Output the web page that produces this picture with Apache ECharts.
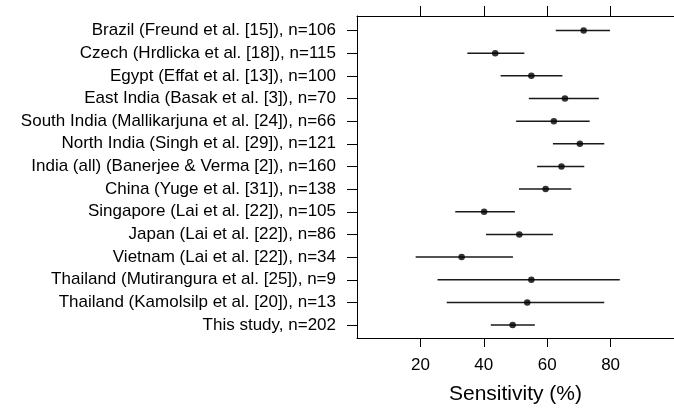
<!DOCTYPE html>
<html>
<head>
<meta charset="utf-8">
<script src="https://cdn.jsdelivr.net/npm/echarts@6/dist/echarts.min.js"></script>
<style>
html,body{margin:0;padding:0;background:#fff;}
#chart{width:674px;height:412px;}
</style>
</head>
<body>
<div id="chart"></div>
<script>
const categories = [
  "Brazil (Freund et al. [15]), n=106",
  "Czech (Hrdlicka et al. [18]), n=115",
  "Egypt (Effat et al. [13]), n=100",
  "East India (Basak et al. [3]), n=70",
  "South India (Mallikarjuna et al. [24]), n=66",
  "North India (Singh et al. [29]), n=121",
  "India (all) (Banerjee & Verma [2]), n=160",
  "China (Yuge et al. [31]), n=138",
  "Singapore (Lai et al. [22]), n=105",
  "Japan (Lai et al. [22]), n=86",
  "Vietnam (Lai et al. [22]), n=34",
  "Thailand (Mutirangura et al. [25]), n=9",
  "Thailand (Kamolsilp et al. [20]), n=13",
  "This study, n=202"
];
const estimates = [71.5, 43.6, 55.0, 65.6, 62.1, 70.3, 64.5, 59.5, 40.1, 51.2, 33.0, 55.0, 53.7, 49.1];
const lower     = [62.7, 34.8, 45.3, 54.2, 50.2, 61.8, 56.8, 51.1, 31.0, 40.7, 18.5, 25.4, 28.3, 42.2];
const upper     = [79.8, 52.8, 64.8, 76.3, 73.4, 78.0, 71.7, 67.6, 49.8, 61.8, 49.2, 82.9, 78.0, 56.1];
const xTicks = [20, 40, 60, 80];
const rowPositions = categories.map((c, i) => i + 1);

const font = "Liberation Sans, Arial, Helvetica, sans-serif";
const chart = echarts.init(document.getElementById('chart'));
chart.setOption({
  animation: false,
  backgroundColor: '#fff',
  grid: { left: 357, top: 16, width: 321.5, height: 322 },
  xAxis: [
    {
      type: 'value', position: 'bottom', min: 0, max: 100,
      name: 'Sensitivity (%)', nameLocation: 'middle', nameGap: 46,
      nameTextStyle: { fontFamily: font, fontSize: 21, color: '#000' },
      axisLine: { show: true, lineStyle: { color: '#000', width: 1 } },
      axisTick: { show: true, length: 9, customValues: xTicks, lineStyle: { color: '#000' } },
      axisLabel: { show: true, customValues: xTicks, margin: 19, fontFamily: font, fontSize: 17, color: '#000' },
      splitLine: { show: false }
    },
    {
      type: 'value', position: 'top', min: 0, max: 100,
      axisLine: { show: true, lineStyle: { color: '#000', width: 1 } },
      axisTick: { show: true, length: 10, customValues: xTicks, lineStyle: { color: '#000' } },
      axisLabel: { show: false },
      splitLine: { show: false }
    }
  ],
  yAxis: {
    type: 'value', inverse: true, min: 0.36, max: 14.57,
    axisLine: { show: true, onZero: false, lineStyle: { color: '#000', width: 1 } },
    axisTick: { show: true, length: 10, customValues: rowPositions, lineStyle: { color: '#000' } },
    axisLabel: {
      show: true, customValues: rowPositions, margin: 21,
      fontFamily: font, fontSize: 17, color: '#000',
      formatter: v => categories[Math.round(v) - 1] || ''
    },
    splitLine: { show: false }
  },
  series: [
    {
      type: 'custom',
      xAxisIndex: 0,
      encode: { x: [1, 2], y: 0 },
      data: rowPositions.map((r, i) => [r, lower[i], upper[i]]),
      renderItem: (params, api) => {
        const y = api.value(0);
        const p1 = api.coord([api.value(1), y]);
        const p2 = api.coord([api.value(2), y]);
        return { type: 'line', shape: { x1: p1[0], y1: p1[1], x2: p2[0], y2: p2[1] },
                 style: { stroke: '#1a1a1a', lineWidth: 1.5 } };
      },
      z: 2
    },
    {
      type: 'scatter',
      xAxisIndex: 0,
      data: rowPositions.map((r, i) => [estimates[i], r]),
      symbol: 'circle', symbolSize: 6.5,
      itemStyle: { color: '#000' },
      z: 3
    }
  ]
});
</script>
</body>
</html>
